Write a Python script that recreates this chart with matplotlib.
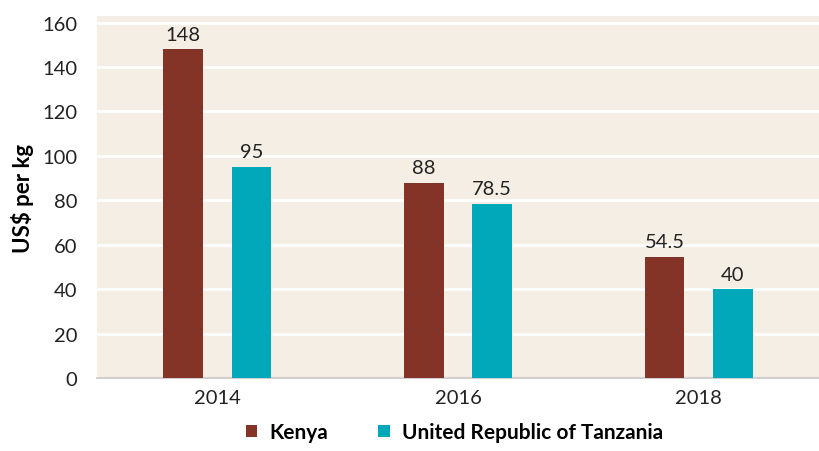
import numpy as np
import matplotlib.pyplot as plt

years = ["2014", "2016", "2018"]
kenya = [148, 88, 54.5]
tanzania = [95, 78.5, 40]
kenya_labels = ["148", "88", "54.5"]
tanzania_labels = ["95", "78.5", "40"]

KENYA_COL = "#843426"
TZ_COL = "#00A8BA"
BG = "#F5EEE5"

plt.rcParams['font.family'] = ['Lato', 'DejaVu Sans']

fig = plt.figure(figsize=(8.19, 4.52), dpi=100)
ax = fig.add_axes([0.1184, 0.1615, 0.8816, 0.8009])
ax.set_facecolor(BG)

x = np.arange(len(years))
w = 0.166
b1 = ax.bar(x - 0.142, kenya, w, color=KENYA_COL, zorder=3, label="Kenya")
b2 = ax.bar(x + 0.142, tanzania, w, color=TZ_COL, zorder=3,
            label="United Republic of Tanzania")

for rect, lab in zip(b1, kenya_labels):
    ax.text(rect.get_x() + rect.get_width() / 2, rect.get_height() + 3, lab,
            ha='center', va='bottom', fontsize=14.5, color='#222222')
for rect, lab in zip(b2, tanzania_labels):
    ax.text(rect.get_x() + rect.get_width() / 2, rect.get_height() + 3, lab,
            ha='center', va='bottom', fontsize=14.5, color='#222222')

ax.set_xlim(-0.5, 2.5)
ax.set_ylim(0, 163)
ax.set_yticks(range(0, 161, 20))
ax.set_xticks(x)
ax.set_xticklabels(years)
ax.tick_params(axis='both', length=0, labelsize=14.5, colors='#222222')
ax.tick_params(axis='x', pad=8)
ax.tick_params(axis='y', pad=14)
ax.grid(axis='y', color='white', linewidth=2, zorder=1)

for s in ['top', 'right', 'left']:
    ax.spines[s].set_visible(False)
ax.spines['bottom'].set_color('#D0D0D0')
ax.spines['bottom'].set_linewidth(1.5)

ax.set_ylabel("US$ per kg", fontsize=16, fontweight='bold', labelpad=6)

leg = fig.legend(handles=[b1, b2], loc='lower center', ncol=2,
                 bbox_to_anchor=(0.555, -0.022), frameon=False,
                 prop={'size': 15, 'weight': 'bold'},
                 handlelength=0.55, handleheight=0.55, columnspacing=2.4,
                 handletextpad=0.6)

fig.savefig("out.png", dpi=100)
